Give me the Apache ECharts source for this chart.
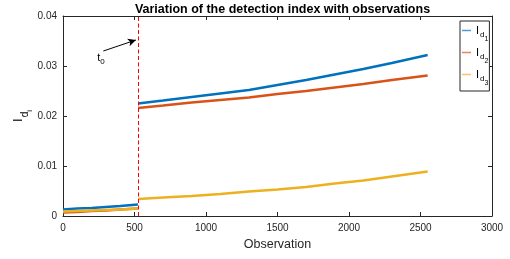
<!DOCTYPE html>
<html>
<head>
<meta charset="utf-8">
<script src="https://cdn.jsdelivr.net/npm/echarts@6/dist/echarts.min.js"></script>
<style>
  html, body { margin: 0; padding: 0; background: #fff; }
  #chart { width: 510px; height: 259px; }
</style>
</head>
<body>
<div id="chart"></div>
<script>
// observation index where values were read; null splits the line at the jump (t0)
const obs = [0, 100, 200, 300, 400, 524, 524.5, 525, 700, 900, 1100, 1300, 1500, 1700, 1900, 2100, 2300, 2550]
const id1 = [0.0013, 0.0015, 0.0016, 0.0018, 0.0020, 0.0023, null, 0.0225, 0.0231, 0.0238, 0.0245, 0.0252, 0.0262, 0.0272, 0.0283, 0.0294, 0.0306, 0.0322]
const id2 = [0.0007, 0.0008, 0.0010, 0.0011, 0.0013, 0.0015, null, 0.0216, 0.0221, 0.0227, 0.0232, 0.0237, 0.0244, 0.0250, 0.0257, 0.0264, 0.0272, 0.0281]
const id3 = [0.0009, 0.0010, 0.0011, 0.0012, 0.0013, 0.0015, null, 0.0034, 0.0037, 0.0040, 0.0044, 0.0049, 0.0053, 0.0058, 0.0065, 0.0071, 0.0079, 0.0089]
const seriesNames = ['Id1', 'Id2', 'Id3']
const colors = ['#0072BD', '#D95319', '#EDB120']
const xTicks = { min: 0, max: 3000, interval: 500 }
const yTicks = { min: 0, max: 0.04, interval: 0.01 }
// change point and its annotation (data coordinates)
const t0 = 525
const arrowFrom = [282, 0.0330]
const arrowTo = [510, 0.0352]
const t0Label = [266, 0.0317]

const font = 'Liberation Sans, Arial, Helvetica, sans-serif'
const axisColor = '#262626'

const myChart = echarts.init(document.getElementById('chart'))

// subscripts for I_{d_n}
const subRich = {
    i: { fontFamily: font, fontSize: 11, color: '#000', verticalAlign: 'top', lineHeight: 11 },
    d: { fontFamily: font, fontSize: 8, color: '#000', verticalAlign: 'top', lineHeight: 8, padding: [6, 0, 0, 1] },
    n: { fontFamily: font, fontSize: 7, color: '#000', verticalAlign: 'top', lineHeight: 7, padding: [11, 0, 0, 0] }
}

const axisCommon = (extra) => Object.assign({
    type: 'value',
    axisLine: { show: true, onZero: false, lineStyle: { color: axisColor, width: 1 } },
    axisTick: { show: true, inside: true, length: 4, lineStyle: { color: axisColor } },
    splitLine: { show: false }
}, extra)

const lineSeries = (name, vals, color, extra) => Object.assign({
    name: name,
    type: 'line',
    data: obs.map((x, k) => [x, vals[k]]),
    showSymbol: false,
    symbol: 'none',
    connectNulls: false,
    animation: false,
    lineStyle: { color: color, width: 2.5 },
    itemStyle: { color: color }
}, extra)

const option = {
    animation: false,
    title: {
        text: 'Variation of the detection index with observations',
        left: 277.5,
        textAlign: 'center',
        top: -2,
        textStyle: { fontFamily: font, fontSize: 12.5, fontWeight: 'bold', color: '#000' }
    },
    grid: { left: 63, right: 18, top: 16, bottom: 43, outerBoundsMode: 'none', containLabel: false },
    legend: {
        orient: 'vertical',
        left: 460,
        top: 21,
        padding: [4, 1, 4, 2],
        itemGap: 4,
        itemWidth: 9,
        itemHeight: 1.5,
        icon: 'rect',
        itemStyle: { borderWidth: 0, opacity: 0.7 },
        borderColor: axisColor,
        borderWidth: 1,
        backgroundColor: '#fff',
        data: seriesNames,
        formatter: (name) => '{i|I}{d|d}{n|' + name.slice(2) + '}',
        textStyle: { rich: subRich }
    },
    xAxis: [
        axisCommon(Object.assign({
            position: 'bottom',
            name: 'Observation',
            nameLocation: 'middle',
            nameGap: 22,
            nameMoveOverlap: false,
            nameTextStyle: { fontFamily: font, fontSize: 12.5, color: axisColor },
            axisLabel: { fontFamily: font, fontSize: 10, color: axisColor, margin: 7, formatter: (v) => String(v) }
        }, xTicks)),
        axisCommon(Object.assign({ position: 'top', axisLabel: { show: false } }, xTicks))
    ],
    yAxis: [
        axisCommon(Object.assign({
            position: 'left',
            name: '{i|I}{d|d}{n|i}',
            nameLocation: 'middle',
            nameGap: 38,
            nameRotate: 90,
            nameMoveOverlap: false,
            nameTextStyle: {
                rich: {
                    i: { fontFamily: font, fontSize: 13, color: '#000', verticalAlign: 'top', lineHeight: 13 },
                    d: { fontFamily: font, fontSize: 10, color: '#000', verticalAlign: 'top', lineHeight: 10, padding: [8, 0, 0, 1] },
                    n: { fontFamily: font, fontSize: 8, color: '#000', verticalAlign: 'top', lineHeight: 8, padding: [14, 0, 0, 0] }
                }
            },
            axisLabel: { fontFamily: font, fontSize: 10, color: axisColor, margin: 6, formatter: (v) => v === 0 ? '0' : v.toFixed(2) }
        }, yTicks)),
        axisCommon(Object.assign({ position: 'right', axisLabel: { show: false } }, yTicks))
    ],
    series: [
        lineSeries(seriesNames[0], id1, colors[0]),
        lineSeries(seriesNames[1], id2, colors[1]),
        lineSeries(seriesNames[2], id3, colors[2], {
            // red dashed line at the change point plus the t0 arrow, drawn on top
            markLine: {
                silent: true,
                animation: false,
                lineStyle: { color: '#FF0000', width: 1, type: [4, 2.5] },
                data: [
                    [
                        { coord: [t0, yTicks.min], symbol: 'none' },
                        { coord: [t0, yTicks.max], symbol: 'none' }
                    ],
                    [
                        { coord: arrowFrom, symbol: 'none', lineStyle: { color: '#000', type: 'solid' } },
                        { coord: arrowTo, symbol: 'arrow', symbolSize: [6, 8] }
                    ]
                ],
                label: { show: false }
            },
            markPoint: {
                silent: true,
                animation: false,
                symbol: 'circle',
                symbolSize: 0,
                data: [{ coord: t0Label }],
                label: {
                    show: true,
                    position: 'inside',
                    formatter: '{t|t}{s|0}',
                    rich: {
                        t: { fontFamily: font, fontSize: 11, color: '#000', verticalAlign: 'top', lineHeight: 11 },
                        s: { fontFamily: font, fontSize: 8, color: '#000', verticalAlign: 'top', lineHeight: 8, padding: [6, 0, 0, 0] }
                    }
                }
            }
        })
    ]
}

myChart.setOption(option)
</script>
</body>
</html>
